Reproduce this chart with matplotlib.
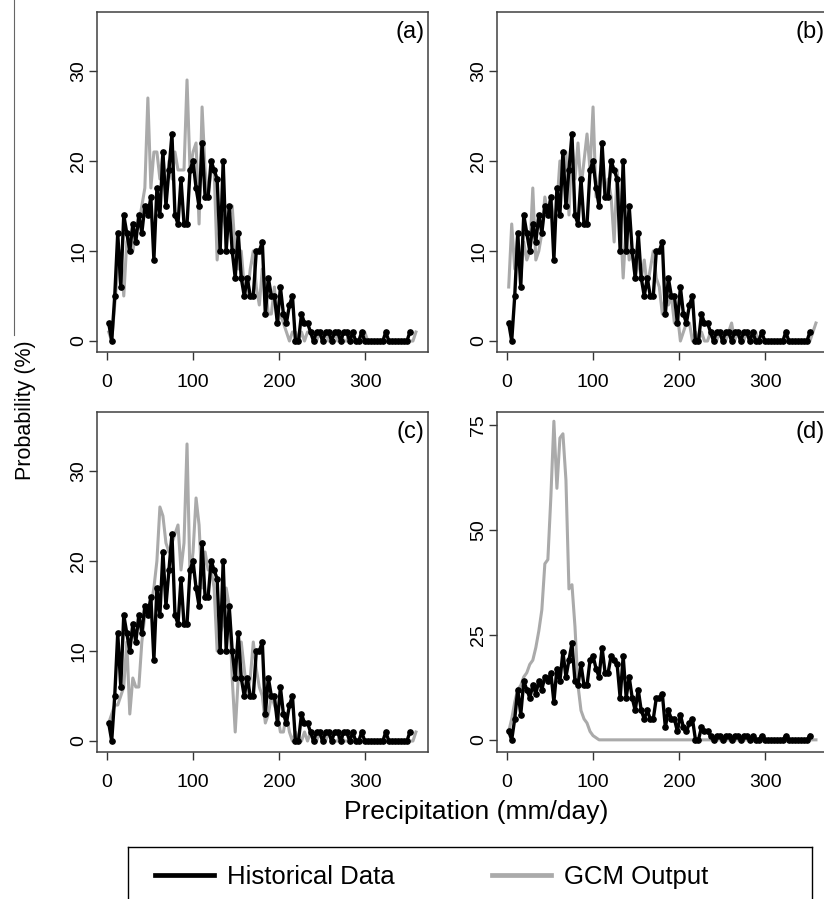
import numpy as np
import matplotlib
matplotlib.use('Agg')
import matplotlib.pyplot as plt
from matplotlib.lines import Line2D

plt.rcParams['font.family'] = ['Liberation Sans', 'DejaVu Sans']

# precipitation bins (mm/day), bin width 3.5
precip = np.arange(2, 360, 3.5)

# observed frequency (%) -- same curve in every panel
historical = [2, 0, 5, 12, 6, 14, 12, 10, 13, 11,
              14, 12, 15, 14, 16, 9, 17, 14, 21, 15,
              19, 23, 14, 13, 18, 13, 13, 19, 20, 17,
              15, 22, 16, 16, 20, 19, 18, 10, 20, 10,
              15, 10, 7, 12, 7, 5, 7, 5, 5, 10,
              10, 11, 3, 7, 5, 5, 2, 6, 3, 2,
              4, 5, 0, 0, 3, 2, 2, 1, 0, 1,
              1, 0, 1, 1, 0, 1, 1, 0, 1, 1,
              0, 1, 0, 0, 1, 0, 0, 0, 0, 0,
              0, 0, 1, 0, 0, 0, 0, 0, 0, 0,
              1]

gcm_a = [1, 0, 4, 8, 10, 5, 11, 12, 10, 12,
         13, 15, 17, 27, 17, 21, 21, 18, 21, 16,
         20, 18, 21, 19, 19, 19, 29, 19, 21, 22,
         13, 26, 19, 16, 19, 19, 9, 13, 14, 12,
         14, 15, 10, 8, 10, 6, 5, 8, 10, 6,
         4, 8, 6, 3, 3, 6, 2, 3, 2, 1,
         0, 1, 1, 0, 1, 0, 1, 1, 0, 0,
         1, 0, 1, 0, 0, 1, 0, 1, 0, 0,
         1, 0, 0, 0, 0, 1, 0, 0, 0, 0,
         0, 0, 0, 0, 0, 0, 0, 0, 0, 0,
         0, 0, 1]

gcm_b = [6, 13, 8, 12, 7, 11, 9, 10, 17, 9,
         10, 12, 16, 14, 16, 13, 15, 20, 18, 21,
         14, 22, 18, 22, 17, 20, 23, 19, 26, 16,
         18, 20, 16, 18, 16, 11, 19, 14, 7, 13,
         9, 10, 7, 9, 7, 9, 6, 8, 10, 7,
         6, 3, 5, 4, 5, 2, 3, 0, 1, 2,
         2, 0, 1, 0, 1, 0, 0, 1, 0, 0,
         1, 0, 0, 1, 2, 0, 1, 0, 0, 1,
         0, 0, 1, 0, 0, 0, 0, 0, 0, 0,
         0, 0, 0, 0, 0, 0, 0, 0, 0, 0,
         0, 1, 2]

gcm_c = [2, 3, 4, 4, 5, 6, 11, 3, 7, 6,
         6, 11, 14, 14, 15, 17, 20, 26, 25, 22,
         21, 22, 23, 24, 19, 22, 33, 18, 21, 27,
         24, 17, 21, 19, 19, 17, 10, 12, 13, 17,
         15, 7, 1, 7, 11, 8, 5, 7, 11, 8,
         6, 5, 2, 3, 5, 4, 3, 1, 1, 3,
         1, 0, 1, 0, 0, 1, 0, 1, 0, 0,
         1, 0, 0, 1, 0, 0, 0, 1, 0, 0,
         0, 1, 0, 0, 0, 0, 0, 0, 0, 0,
         0, 0, 0, 0, 0, 0, 0, 0, 0, 0,
         0, 0, 1]

# flat at zero beyond ~105 mm/day
gcm_d = [2, 5, 9, 12, 13, 15, 16, 18, 19, 22,
         26, 31, 42, 43, 58, 76, 60, 72, 73, 62,
         36, 37, 27, 13, 7, 5, 4, 2, 1, 0.5] + [0] * 73

panel_labels = ['(a)', '(b)', '(c)', '(d)']
gcm_runs = [gcm_a, gcm_b, gcm_c, gcm_d]
yticks = [[0, 10, 20, 30]] * 3 + [[0, 25, 50, 75]]
ylims = [(-1.22, 36.55)] * 3 + [(-2.9, 78.2)]

W, H = 824, 899
fig = plt.figure(figsize=(W / 100, H / 100), dpi=100)

# panel boxes in pixels: left, top, width, height
boxes = [(97, 12, 331, 340), (497, 12, 331, 340),
         (97, 412, 331, 340), (497, 412, 331, 340)]

for k in range(4):
    l, t, w, h = boxes[k]
    ax = fig.add_axes([l / W, 1 - (t + h) / H, w / W, h / H])
    ax.plot(precip[:len(gcm_runs[k])], gcm_runs[k], color='#aaaaaa', lw=2.2)
    ax.plot(precip[:len(historical)], historical, color='black', lw=2.4,
            marker='o', markersize=3.8)
    ax.set_xlim(-11.6, 373)
    ax.set_ylim(*ylims[k])
    ax.set_xticks([0, 100, 200, 300])
    ax.set_yticks(yticks[k])
    ax.tick_params(axis='both', direction='out', length=6, width=1,
                   color='#333333', labelsize=14)
    ax.tick_params(axis='x', pad=10)
    ax.tick_params(axis='y', labelrotation=90, pad=1)
    for lab in ax.get_yticklabels():
        lab.set_va('center')
    for s in ax.spines.values():
        s.set_color('#404040')
        s.set_linewidth(1.1)
    ax.text(0.99, 0.975, panel_labels[k], transform=ax.transAxes,
            ha='right', va='top', fontsize=17)

fig.text(25 / W, 1 - 410 / H, 'Probability (%)', rotation=90,
         ha='center', va='center', fontsize=15.5)
fig.text(476 / W, 1 - 812 / H, 'Precipitation (mm/day)',
         ha='center', va='center', fontsize=19)

# thin rule along the left margin (top half)
fig.add_artist(Line2D([14 / W, 14 / W], [1.0, 1 - 335 / H],
                      color='#666666', lw=0.8))

# legend box at the bottom
lax = fig.add_axes([128 / W, -0.02, 684 / W, (H - 847) / H + 0.02])
lax.set_xticks([])
lax.set_yticks([])
for s in lax.spines.values():
    s.set_color('black')
    s.set_linewidth(1)
handles = [Line2D([], [], color='black', lw=3.4),
           Line2D([], [], color='#aaaaaa', lw=3.4)]
lax.legend(handles, ['Historical Data', 'GCM Output'], loc='center left',
           bbox_to_anchor=(27 / 684, 0.57), ncol=2, frameon=False,
           fontsize=18.5, handlelength=2.3, handletextpad=0.5,
           columnspacing=3.8, borderpad=0, borderaxespad=0)

fig.savefig('out.png', dpi=100)
